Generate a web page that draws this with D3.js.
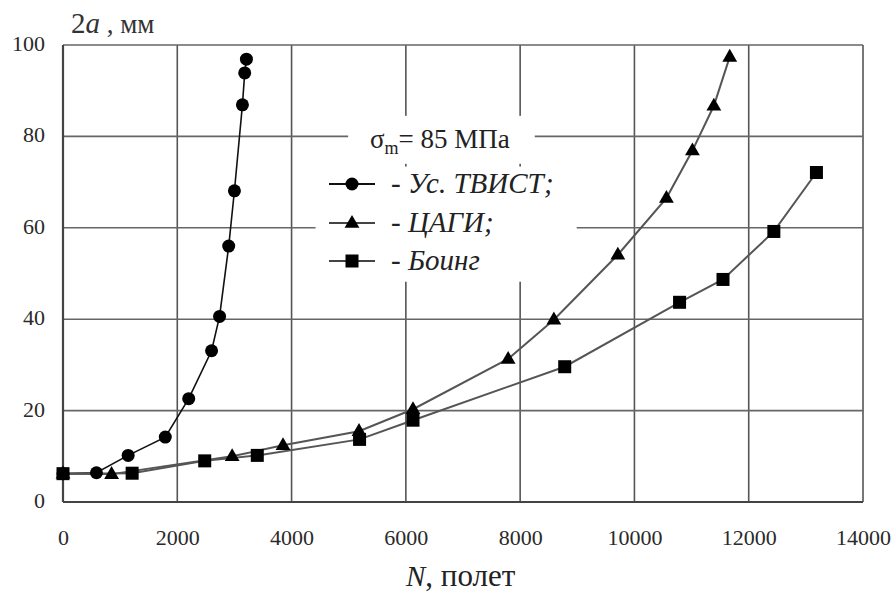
<!DOCTYPE html>
<html>
<head>
<meta charset="utf-8">
<script src="https://cdn.jsdelivr.net/npm/d3@7"></script>
<style>
    body { margin: 0; background: #fff; }
    svg text { font-family: "Liberation Serif", "DejaVu Serif", "Times New Roman", serif !important; }
</style>
</head>
<body>
<div id="crack-chart"></div>
<script>
// data
var twistN = [0, 585, 1140, 1790, 2200, 2600, 2740, 2900, 3000, 3140, 3180, 3210];
var twistA = [6.2, 6.4, 10.2, 14.2, 22.6, 33.1, 40.6, 56.0, 68.1, 86.9, 93.9, 96.9];

var cagiN = [0, 850, 2960, 3850, 5180, 6125, 7790, 8590, 9710, 10560, 11015, 11390, 11668];
var cagiA = [6.2, 6.1, 10.0, 12.4, 15.5, 20.3, 31.3, 39.9, 54.1, 66.5, 76.9, 86.7, 97.4];

var boeingN = [0, 1210, 2480, 3400, 5190, 6125, 8780, 10790, 11550, 12440, 13185];
var boeingA = [6.2, 6.3, 9.0, 10.2, 13.7, 17.9, 29.6, 43.7, 48.7, 59.2, 72.1];

var xTicks = [0, 2000, 4000, 6000, 8000, 10000, 12000, 14000];
var yTicks = [0, 20, 40, 60, 80, 100];

var legendNames = ["Ус. ТВИСТ;", "ЦАГИ;", "Боинг"];
var legendMarks = ["circle", "triangle", "square"];

(function () {
    "use strict";

    var vFont = "'Liberation Serif', 'DejaVu Serif', serif";
    var vW = 896, vH = 594;
    var vMargin = { mTop: 45, mRight: 33, mBottom: 92, mLeft: 63 },
        vWidth = vW - vMargin.mLeft - vMargin.mRight,
        vHeight = vH - vMargin.mTop - vMargin.mBottom;

    var svg = d3.select("#crack-chart")
        .append("svg")
        .attr("width", vW)
        .attr("height", vH)
        .style("font-family", vFont);

    var g = svg.append("g")
        .attr("transform", "translate(" + vMargin.mLeft + "," + vMargin.mTop + ")");

    var x = d3.scaleLinear().domain([0, 14000]).range([0, vWidth]);
    var y = d3.scaleLinear().domain([0, 100]).range([vHeight, 0]);

    // grid
    g.append("g")
        .selectAll("line")
        .data(xTicks.slice(1))
        .enter()
        .append("line")
        .attr("x1", function (d) { return x(d); })
        .attr("x2", function (d) { return x(d); })
        .attr("y1", 0)
        .attr("y2", vHeight)
        .attr("stroke", "#555")
        .attr("stroke-width", 1.6);
    g.append("g")
        .selectAll("line")
        .data(yTicks.slice(1))
        .enter()
        .append("line")
        .attr("x1", 0)
        .attr("x2", vWidth)
        .attr("y1", function (d) { return y(d); })
        .attr("y2", function (d) { return y(d); })
        .attr("stroke", "#666")
        .attr("stroke-width", 1.6);

    // axes: only tick labels, lines drawn by hand
    var xAxis = g.append("g")
        .attr("transform", "translate(0," + vHeight + ")")
        .call(d3.axisBottom(x).tickValues(xTicks).tickFormat(d3.format("d")).tickSize(0).tickPadding(27));
    xAxis.attr("font-family", null);
    xAxis.select(".domain").remove();
    xAxis.selectAll("text")
        .attr("font-size", 22)
        .style("font-family", vFont)
        .attr("fill", "#2a2a2a");

    var yAxis = g.append("g")
        .call(d3.axisLeft(y).tickValues(yTicks).tickFormat(d3.format("d")).tickSize(0).tickPadding(18));
    yAxis.attr("font-family", null);
    yAxis.select(".domain").remove();
    yAxis.selectAll("text")
        .attr("font-size", 22)
        .style("font-family", vFont)
        .attr("fill", "#2a2a2a")
        .attr("dy", "0.25em");

    g.append("line")
        .attr("x1", 0).attr("x2", 0).attr("y1", 0).attr("y2", vHeight)
        .attr("stroke", "#444").attr("stroke-width", 2.2);
    g.append("line")
        .attr("x1", 0).attr("x2", vWidth).attr("y1", vHeight).attr("y2", vHeight)
        .attr("stroke", "#444").attr("stroke-width", 2.2);

    // legend boxes hide the grid behind them
    g.append("rect")
        .attr("x", x(4990)).attr("y", y(84.5))
        .attr("width", x(8255) - x(4990)).attr("height", y(74) - y(84.5))
        .attr("fill", "#fff");
    g.append("rect")
        .attr("x", x(4420)).attr("y", y(73.4))
        .attr("width", x(8990) - x(4420)).attr("height", y(48.2) - y(73.4))
        .attr("fill", "#fff");

    function drawMark(sel, kind, cx, cy) {
        if (kind === "circle") {
            sel.append("circle").attr("cx", cx).attr("cy", cy).attr("r", 6.5).attr("fill", "#000");
        } else if (kind === "square") {
            sel.append("rect").attr("x", cx - 6.5).attr("y", cy - 6.5)
                .attr("width", 13).attr("height", 13).attr("fill", "#000");
        } else {
            sel.append("path")
                .attr("d", d3.symbol().type(d3.symbolTriangle).size(95)())
                .attr("transform", "translate(" + cx + "," + (cy + 0.5) + ")")
                .attr("fill", "#000");
        }
    }

    var vSeries = [
        { mN: twistN, mA: twistA, mMark: "circle", mColor: "#111", mStroke: 1.6 },
        { mN: cagiN, mA: cagiA, mMark: "triangle", mColor: "#555", mStroke: 2 },
        { mN: boeingN, mA: boeingA, mMark: "square", mColor: "#555", mStroke: 2 }
    ];

    var line = d3.line()
        .x(function (d) { return x(d[0]); })
        .y(function (d) { return y(d[1]); });

    vSeries.forEach(function (aS) {
        var vPts = aS.mN.map(function (n, i) { return [n, aS.mA[i]]; });
        g.append("path")
            .datum(vPts)
            .attr("d", line)
            .attr("fill", "none")
            .attr("stroke", aS.mColor)
            .attr("stroke-width", aS.mStroke);
    });
    vSeries.forEach(function (aS) {
        var vMarks = g.append("g");
        aS.mN.forEach(function (n, i) {
            drawMark(vMarks, aS.mMark, x(n), y(aS.mA[i]));
        });
    });

    // legend
    var sigma = svg.append("text")
        .attr("x", 370).attr("y", 148)
        .attr("font-size", 27)
        .attr("fill", "#222");
    sigma.append("tspan").text("σ");
    sigma.append("tspan").attr("font-size", 18).attr("dy", 6).text("m");
    sigma.append("tspan").attr("dy", -6).text("= 85 МПа");

    var vLegY = [184, 223, 261];
    legendNames.forEach(function (aName, i) {
        var vLg = svg.append("g");
        vLg.append("line")
            .attr("x1", 329).attr("x2", 375)
            .attr("y1", vLegY[i]).attr("y2", vLegY[i])
            .attr("stroke", i === 0 ? "#111" : "#444")
            .attr("stroke-width", 2);
        drawMark(vLg, legendMarks[i], 352, vLegY[i]);
        var t = vLg.append("text")
            .attr("x", 391).attr("y", vLegY[i] + 9)
            .attr("font-size", 29)
            .attr("fill", "#222");
        t.append("tspan").text("- ");
        t.append("tspan").attr("font-style", "italic").text(aName);
    });

    // axis titles
    var yTitle = svg.append("text")
        .attr("x", 71).attr("y", 33)
        .attr("font-size", 29)
        .attr("fill", "#333");
    yTitle.append("tspan").text("2");
    yTitle.append("tspan").attr("font-style", "italic").text("a");
    yTitle.append("tspan").attr("font-size", 27).text(" , мм");

    var xTitle = svg.append("text")
        .attr("x", 406).attr("y", 586)
        .attr("font-size", 31)
        .attr("fill", "#222");
    xTitle.append("tspan").attr("font-style", "italic").attr("font-size", 29).text("N");
    xTitle.append("tspan").text(", полет");
})();
</script>
</body>
</html>
